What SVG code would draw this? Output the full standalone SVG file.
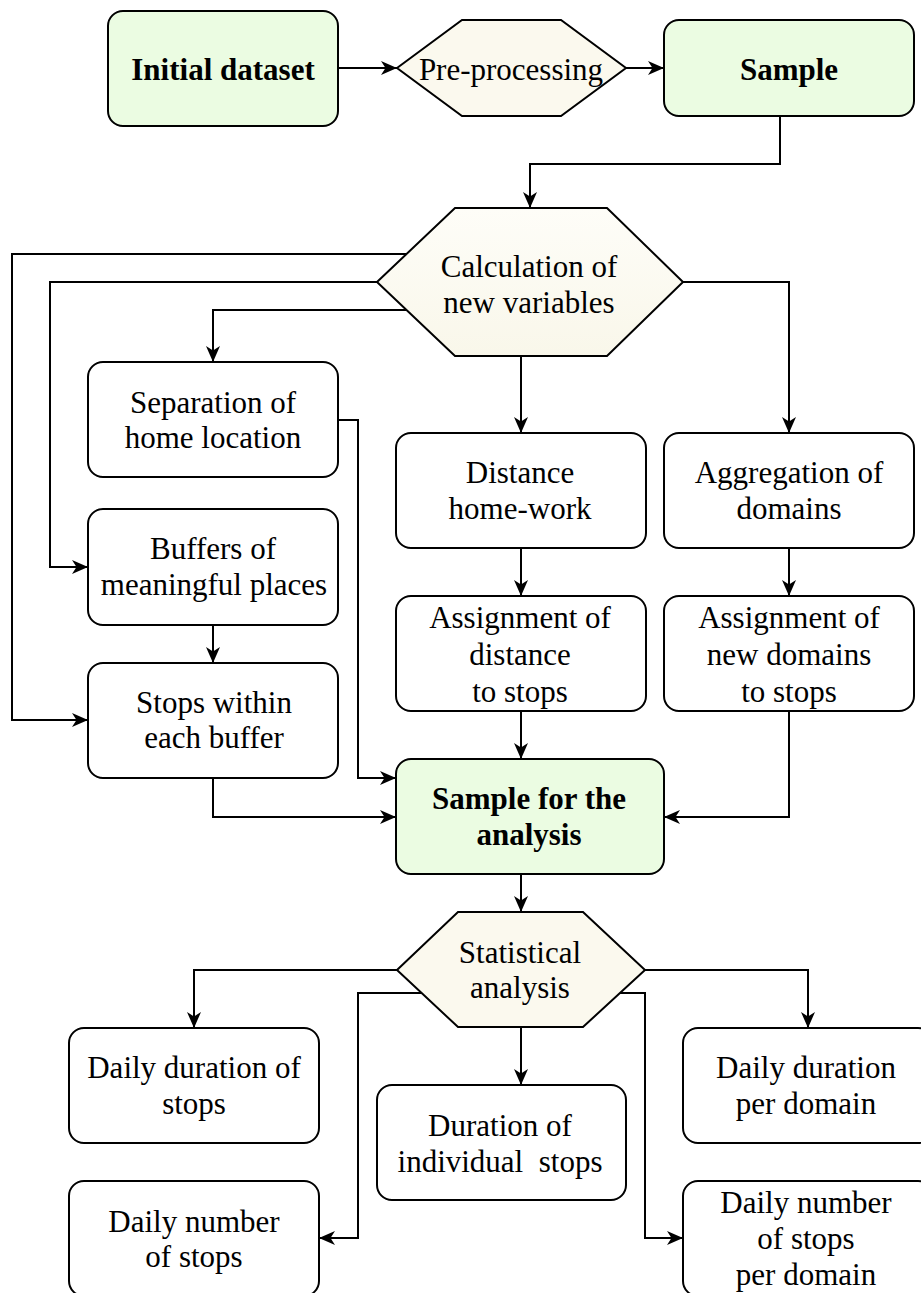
<svg xmlns="http://www.w3.org/2000/svg" width="921" height="1293" viewBox="0 0 921 1293">
<style>
.box{stroke:#000;stroke-width:2;fill:#fff}
.green{fill:#ebfce2}
.hex{stroke:#000;stroke-width:2;fill:#fbf9ee;stroke-linejoin:miter}
.t{font-family:"Liberation Serif","Times New Roman",serif;font-size:31px;fill:#000;text-anchor:middle}
.b{font-weight:bold}
.c{fill:none;stroke:#000;stroke-width:2;marker-end:url(#arr)}
</style>
<defs>
<marker id="arr" markerUnits="userSpaceOnUse" markerWidth="17" markerHeight="14" refX="16" refY="7" orient="auto" overflow="visible">
<path d="M0,0 L16,7 L0,14 L4.5,7 Z" fill="#000"/>
</marker>
<linearGradient id="hexg" x1="0" y1="0" x2="0" y2="1">
<stop offset="0" stop-color="#fefdf8"/>
<stop offset="1" stop-color="#f9f7ea"/>
</linearGradient>
</defs>
<rect width="921" height="1293" fill="#fff"/>
<g id="connectors">
<path class="c" d="M338,68 H397"/>
<path class="c" d="M626,68 H664"/>
<path class="c" d="M780,116 V164 H530 V208"/>
<path class="c" d="M406.5,254 H12 V720 H88"/>
<path class="c" d="M377,282 H50 V567 H88"/>
<path class="c" d="M406.5,310 H213 V362"/>
<path class="c" d="M521,356 V433"/>
<path class="c" d="M683,282 H789 V433"/>
<path class="c" d="M338,420 H358 V778 H396"/>
<path class="c" d="M213,625 V663"/>
<path class="c" d="M213,778 V817 H396"/>
<path class="c" d="M521,548 V596"/>
<path class="c" d="M789,548 V596"/>
<path class="c" d="M521,711 V759"/>
<path class="c" d="M789,711 V817 H664"/>
<path class="c" d="M521,874 V912"/>
<path class="c" d="M397,970 H194 V1028"/>
<path class="c" d="M421.6,993 H358 V1238 H319"/>
<path class="c" d="M521,1027 V1085"/>
<path class="c" d="M645,970 H808 V1028"/>
<path class="c" d="M620,993 H645 V1238 H683"/>
</g>
<g id="initial">
<rect class="box green" x="108" y="11" width="230" height="115" rx="15"/>
<text class="t b" x="223" y="80">Initial dataset</text>
</g>
<g id="preprocessing">
<polygon class="hex" points="397,68 462,20 561,20 626,68 561,116 462,116"/>
<text class="t" x="511" y="80">Pre-processing</text>
</g>
<g id="sample">
<rect class="box green" x="664" y="20" width="250" height="96" rx="15"/>
<text class="t b" x="789" y="80">Sample</text>
</g>
<g id="calculation">
<polygon class="hex" style="fill:url(#hexg)" points="377,282 455,208 607,208 683,282 607,356 455,356"/>
<text class="t" x="529" y="277">Calculation of</text>
<text class="t" x="529" y="313">new variables</text>
</g>
<g id="separation">
<rect class="box" x="88" y="362" width="250" height="115" rx="15"/>
<text class="t" x="213" y="413">Separation of</text>
<text class="t" x="213" y="448">home location</text>
</g>
<g id="buffers">
<rect class="box" x="88" y="509" width="250" height="116" rx="15"/>
<text class="t" x="213" y="559">Buffers of</text>
<text class="t" x="214" y="595">meaningful places</text>
</g>
<g id="stops">
<rect class="box" x="88" y="663" width="250" height="115" rx="15"/>
<text class="t" x="214" y="713">Stops within</text>
<text class="t" x="214" y="748">each buffer</text>
</g>
<g id="distance">
<rect class="box" x="396" y="433" width="250" height="115" rx="15"/>
<text class="t" x="520" y="483">Distance</text>
<text class="t" x="520" y="519">home-work</text>
</g>
<g id="aggregation">
<rect class="box" x="664" y="433" width="250" height="115" rx="15"/>
<text class="t" x="789" y="483">Aggregation of</text>
<text class="t" x="789" y="519">domains</text>
</g>
<g id="assignDistance">
<rect class="box" x="396" y="596" width="250" height="115" rx="15"/>
<text class="t" x="520" y="628">Assignment of</text>
<text class="t" x="520" y="665">distance</text>
<text class="t" x="520" y="702">to stops</text>
</g>
<g id="assignDomains">
<rect class="box" x="664" y="596" width="250" height="115" rx="15"/>
<text class="t" x="789" y="628">Assignment of</text>
<text class="t" x="789" y="665">new domains</text>
<text class="t" x="789" y="702">to stops</text>
</g>
<g id="sampleAnalysis">
<rect class="box green" x="396" y="759" width="268" height="115" rx="15"/>
<text class="t b" x="529" y="809">Sample for the</text>
<text class="t b" x="529" y="845">analysis</text>
</g>
<g id="statistical">
<polygon class="hex" points="397,970 458,912 583,912 645,970 583,1027 458,1027"/>
<text class="t" x="520" y="963">Statistical</text>
<text class="t" x="520" y="998">analysis</text>
</g>
<g id="dailyDuration">
<rect class="box" x="69" y="1028" width="250" height="115" rx="15"/>
<text class="t" x="194" y="1078">Daily duration of</text>
<text class="t" x="194" y="1114">stops</text>
</g>
<g id="durationIndividual">
<rect class="box" x="377" y="1085" width="249" height="115" rx="15"/>
<text class="t" x="500" y="1136">Duration of</text>
<text class="t" x="500" y="1172" xml:space="preserve" style="white-space:pre">individual  stops</text>
</g>
<g id="dailyDurationDomain">
<rect class="box" x="683" y="1028" width="250" height="115" rx="15"/>
<text class="t" x="806" y="1078">Daily duration</text>
<text class="t" x="806" y="1114">per domain</text>
</g>
<g id="dailyNumber">
<rect class="box" x="69" y="1181" width="250" height="115" rx="15"/>
<text class="t" x="194" y="1232">Daily number</text>
<text class="t" x="194" y="1267">of stops</text>
</g>
<g id="dailyNumberDomain">
<rect class="box" x="683" y="1181" width="250" height="115" rx="15"/>
<text class="t" x="806" y="1213">Daily number</text>
<text class="t" x="806" y="1249">of stops</text>
<text class="t" x="806" y="1285">per domain</text>
</g>
</svg>
